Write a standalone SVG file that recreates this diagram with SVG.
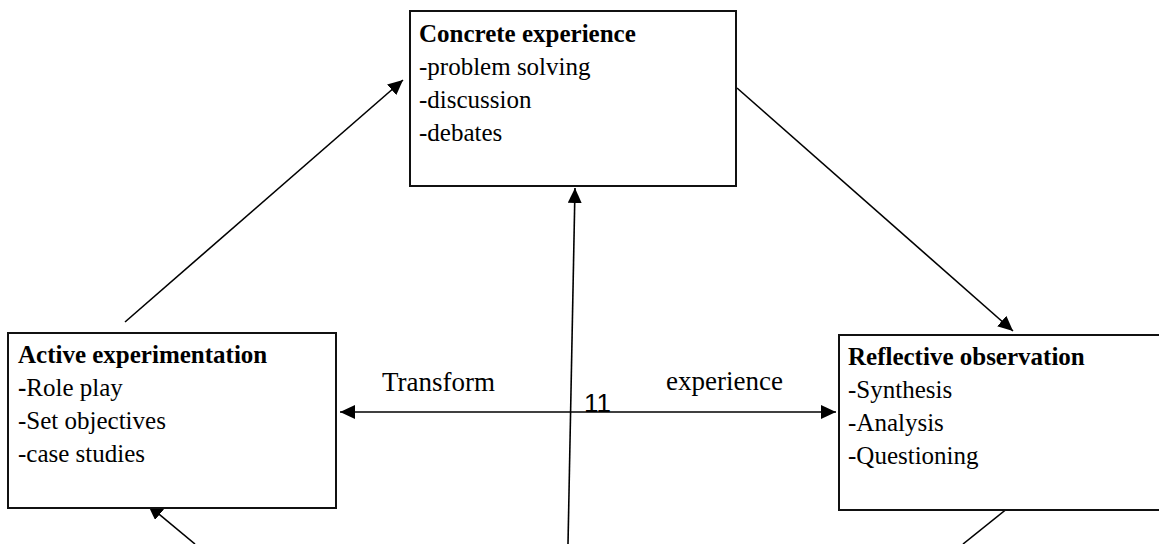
<svg xmlns="http://www.w3.org/2000/svg" width="1159" height="544" viewBox="0 0 1159 544">
<style>
.box{fill:#fff;stroke:#111;stroke-width:2}
.t{font-family:"Liberation Serif","Times New Roman",serif;font-size:25px;fill:#000}
.b{font-weight:bold}
.lbl{font-family:"Liberation Serif","Times New Roman",serif;font-size:27px;fill:#000}
.num{font-family:"Liberation Sans",Arial,sans-serif;font-size:26px;fill:#000}
.c{stroke:#000;stroke-width:1.6;fill:none}
</style>
<defs>
<marker id="ah" markerUnits="userSpaceOnUse" markerWidth="16" markerHeight="14" refX="15" refY="7" orient="auto-start-reverse">
<path d="M0,0 L15,7 L0,14 z" fill="#000"/>
</marker>
</defs>
<rect width="1159" height="544" fill="#fff"/>
<g id="connectors">
<line class="c" x1="125" y1="322" x2="403" y2="80" marker-end="url(#ah)"/>
<line class="c" x1="737" y1="88" x2="1013" y2="331" marker-end="url(#ah)"/>
<line class="c" x1="1008" y1="508" x2="963" y2="544"/>
<line class="c" x1="195" y1="544" x2="148" y2="505" marker-end="url(#ah)"/>
<line class="c" x1="568" y1="544" x2="575" y2="188" marker-end="url(#ah)"/>
<line class="c" x1="340" y1="412" x2="836" y2="412" marker-start="url(#ah)" marker-end="url(#ah)"/>
<text class="lbl" x="382" y="391">Transform</text>
<text class="lbl" x="666" y="390">experience</text>
<text class="num" x="584" y="412">11</text>
</g>
<g id="concrete">
<rect class="box" x="410" y="11" width="326" height="175"/>
<text class="t b" x="419" y="42">Concrete experience</text>
<text class="t" x="419" y="75">-problem solving</text>
<text class="t" x="419" y="108">-discussion</text>
<text class="t" x="419" y="141">-debates</text>
</g>
<g id="active">
<rect class="box" x="8" y="333" width="328" height="175"/>
<text class="t b" x="18" y="363">Active experimentation</text>
<text class="t" x="18" y="396"><tspan class="b">-</tspan>Role play</text>
<text class="t" x="18" y="429">-Set objectives</text>
<text class="t" x="18" y="462">-case studies</text>
</g>
<g id="reflective">
<rect class="box" x="839" y="335" width="340" height="175"/>
<text class="t b" x="848" y="365">Reflective observation</text>
<text class="t" x="848" y="398">-Synthesis</text>
<text class="t" x="848" y="431">-Analysis</text>
<text class="t" x="848" y="464">-Questioning</text>
</g>
</svg>
